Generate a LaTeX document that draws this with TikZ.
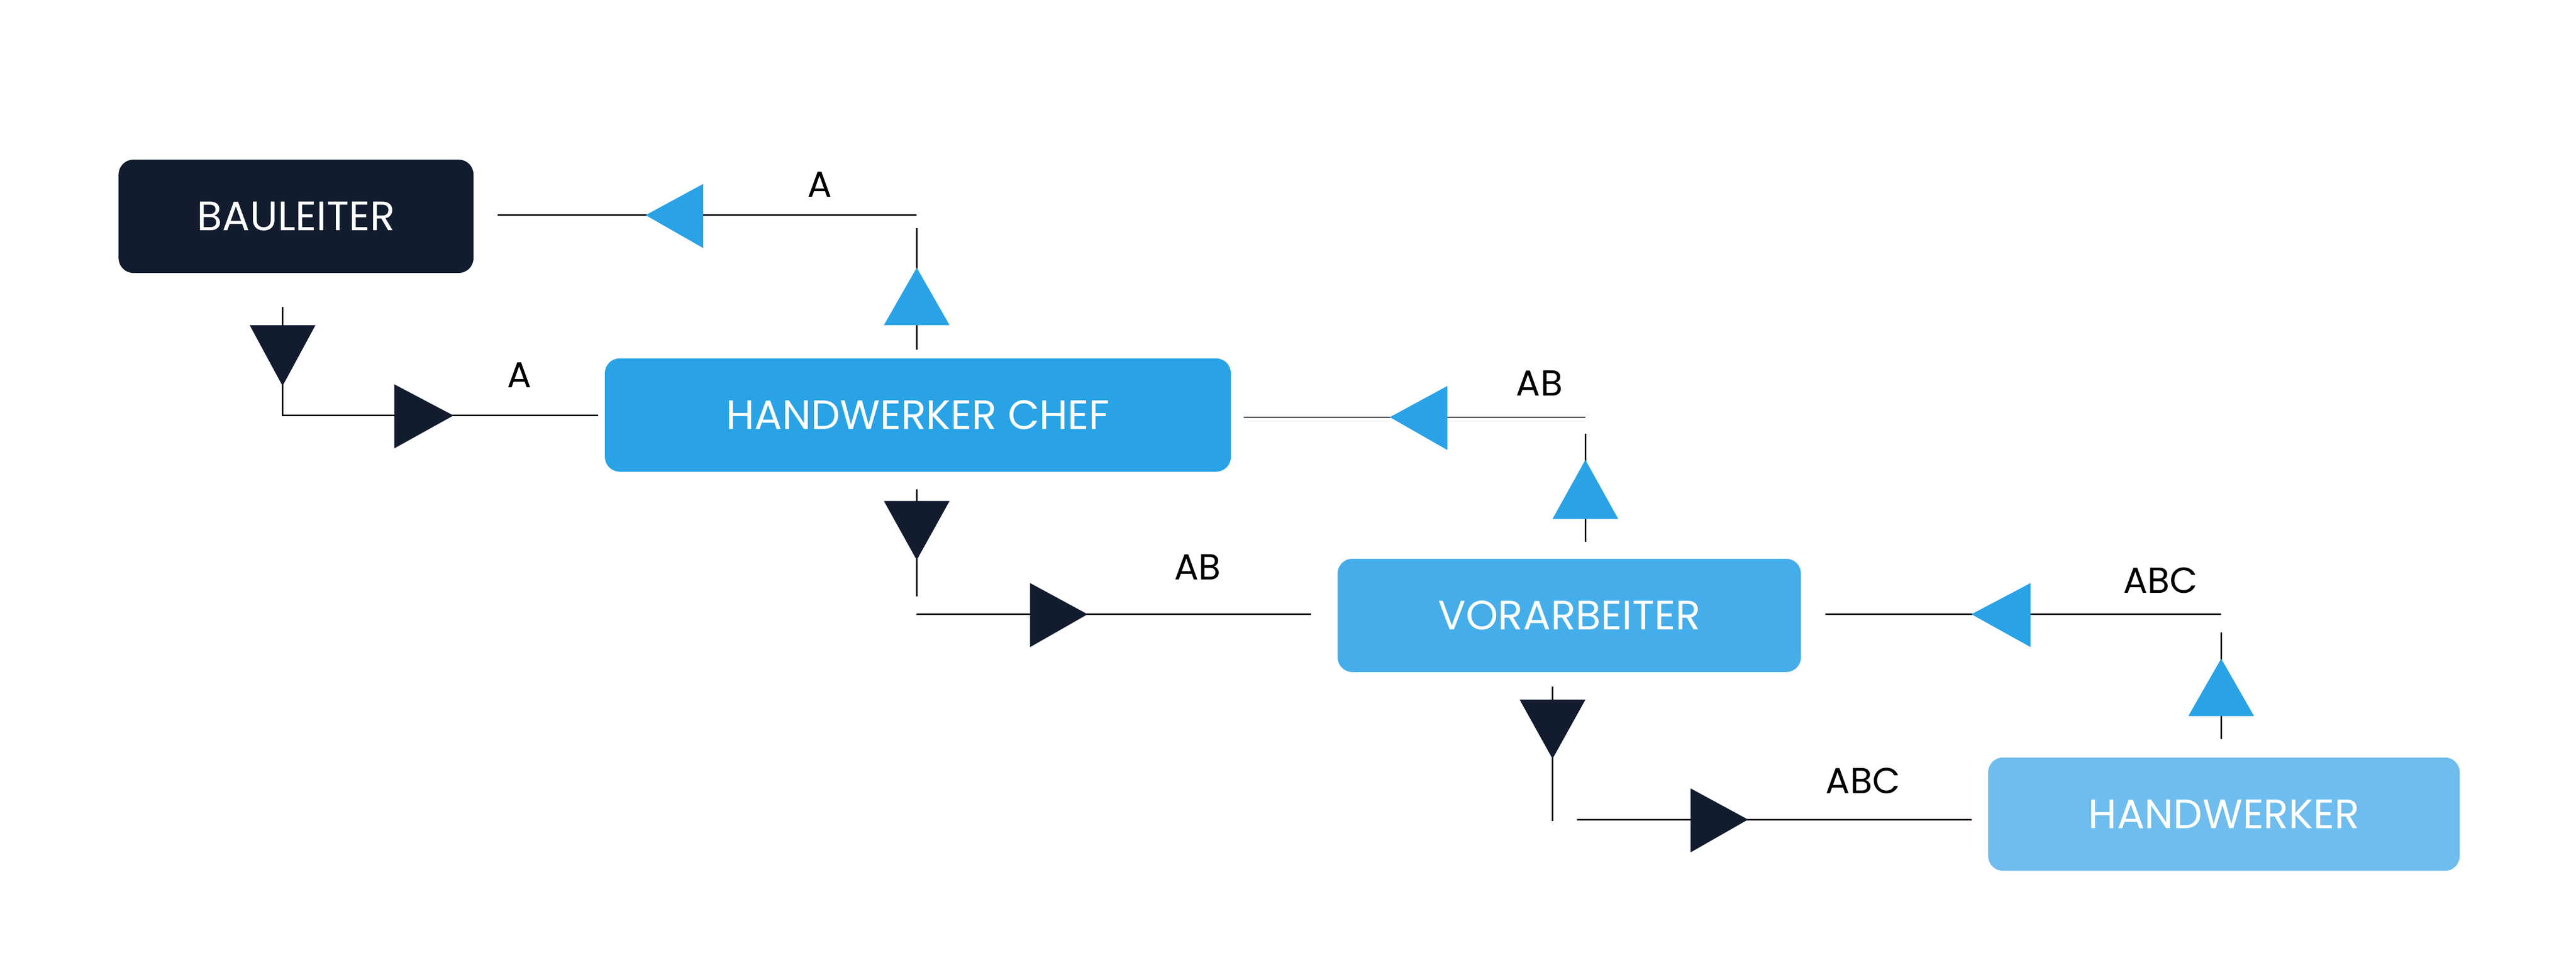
\documentclass[tikz,border=0pt]{standalone}
\usepackage{fontspec}
\setmainfont{Poppins}
\definecolor{navy}{HTML}{131C2E}
\definecolor{b1}{HTML}{29A3E6}
\definecolor{b2}{HTML}{45AEEA}
\definecolor{b3}{HTML}{6EBDEE}
\begin{document}
\begin{tikzpicture}[x=1pt,y=-1pt,
  box/.style={rounded corners=9pt,text=white,font=\fontsize{25}{28}\selectfont,inner sep=0pt,anchor=north west},
  ln/.style={line width=0.9pt,black},
  lbl/.style={font=\fontsize{22}{24}\selectfont,anchor=base}]
\useasboundingbox (0,0) rectangle (1568,593.4);
\node[box,fill=navy,minimum width=216pt,minimum height=69pt] (bau) at (72,97) {BAULEITER};
\node[box,fill=b1,minimum width=381pt,minimum height=69pt] (chef) at (368,218) {HANDWERKER CHEF};
\node[box,fill=b2,minimum width=282pt,minimum height=69pt] (vor) at (814,340) {VORARBEITER};
\node[box,fill=b3,minimum width=287pt,minimum height=69pt] (hw) at (1210,461) {HANDWERKER};
% top: chef -> bau
\coordinate (t1) at (303,131); \coordinate (t2) at (558,131);
\coordinate (t3) at (558,139); \coordinate (t4) at (558,213);
\draw[ln] (t1)--(t2); \draw[ln] (t3)--(t4);
\fill[b1] (393,131)--(428,112)--(428,151)--cycle;
\fill[b1] (538,198)--(578,198)--(558,163)--cycle;
\node[lbl] (la1) at (499,120) {A};
% left: bau -> chef
\coordinate (l1) at (172,187); \coordinate (l2) at (172,253); \coordinate (l3) at (364,253);
\draw[ln] (l1)--(l2)--(l3);
\fill[navy] (152,198)--(192,198)--(172,235)--cycle;
\fill[navy] (276,253)--(240,234)--(240,273)--cycle;
\node[lbl] (la2) at (316,236) {A};
% vor -> chef
\coordinate (m1) at (757,254); \coordinate (m2) at (965,254);
\coordinate (m3) at (965,264); \coordinate (m4) at (965,330);
\draw[ln] (m1)--(m2); \draw[ln] (m3)--(m4);
\fill[b1] (846,254)--(881,235)--(881,274)--cycle;
\fill[b1] (945,316)--(985,316)--(965,280)--cycle;
\node[lbl] (la3) at (937,241) {AB};
% chef -> vor
\coordinate (n1) at (558,298); \coordinate (n2) at (558,363);
\coordinate (n3) at (558,374); \coordinate (n4) at (798,374);
\draw[ln] (n1)--(n2); \draw[ln] (n3)--(n4);
\fill[navy] (538,305)--(578,305)--(558,341)--cycle;
\fill[navy] (662,374)--(627,355)--(627,394)--cycle;
\node[lbl] (la4) at (729,353) {AB};
% hw -> vor
\coordinate (r1) at (1111,374); \coordinate (r2) at (1352,374);
\coordinate (r3) at (1352,385); \coordinate (r4) at (1352,450);
\draw[ln] (r1)--(r2); \draw[ln] (r3)--(r4);
\fill[b1] (1200,374)--(1236,355)--(1236,394)--cycle;
\fill[b1] (1332,436)--(1372,436)--(1352,401)--cycle;
\node[lbl] (la5) at (1315,361) {ABC};
% vor -> hw
\coordinate (s1) at (945,418); \coordinate (s2) at (945,500);
\coordinate (s3) at (960,499); \coordinate (s4) at (1200,499);
\draw[ln] (s1)--(s2); \draw[ln] (s3)--(s4);
\fill[navy] (925,426)--(965,426)--(945,462)--cycle;
\fill[navy] (1064,499)--(1029,480)--(1029,519)--cycle;
\node[lbl] (la6) at (1134,483) {ABC};
\end{tikzpicture}
\end{document}
